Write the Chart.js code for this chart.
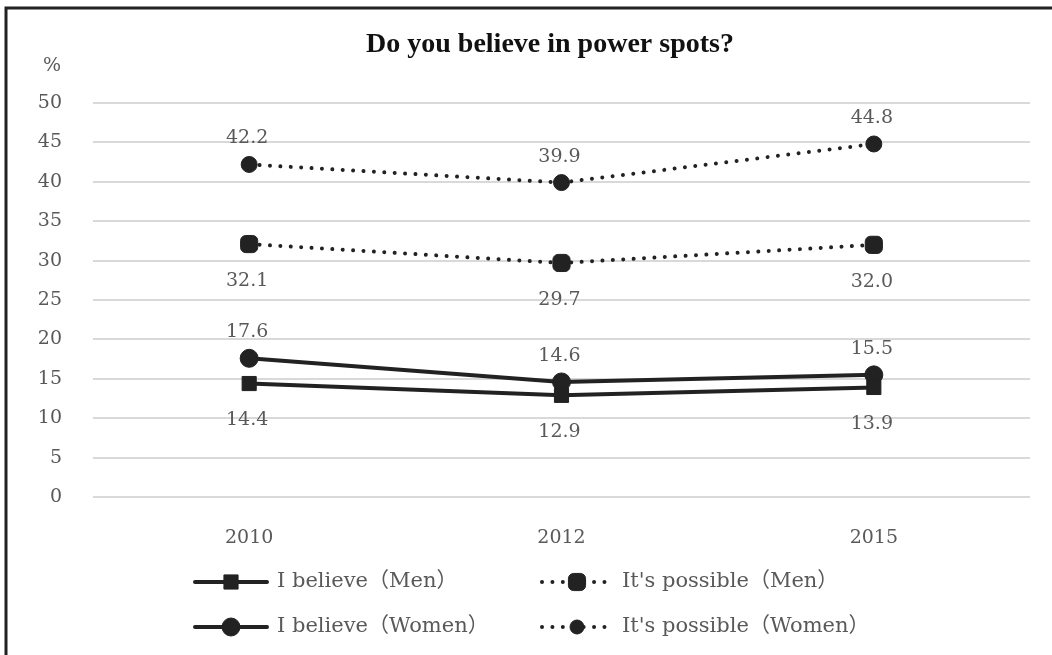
<!DOCTYPE html>
<html>
<head>
<meta charset="utf-8">
<script src="https://cdn.jsdelivr.net/npm/chart.js@4.4.0/dist/chart.umd.min.js"></script>
<style>
  html, body { margin: 0; padding: 0; background: #fff; }
  #wrap { position: relative; width: 1052px; height: 655px; }
</style>
</head>
<body>
<div id="wrap"><canvas id="powerSpotChart"></canvas></div>
<script>
// --- data ---
const years = ['2010', '2012', '2015'];
const believeMen = [14.4, 12.9, 13.9];
const possibleMen = [32.1, 29.7, 32.0];
const believeWomen = [17.6, 14.6, 15.5];
const possibleWomen = [42.2, 39.9, 44.8];
const yTicks = [0, 5, 10, 15, 20, 25, 30, 35, 40, 45, 50];

const chartTitle = 'Do you believe in power spots?';
const unitLabel = '%';

const SERIF = "'DejaVu Serif', 'Noto Sans CJK JP', serif";
const INK = '#222222';
const GREY_TEXT = '#595959';

// rótulos de valor acima/abaixo dos pontos
const valueLabels = {
  id: 'valueLabels',
  afterDatasetsDraw(chart) {
    const ctx = chart.ctx;
    ctx.save();
    ctx.font = '19px ' + SERIF;
    ctx.fillStyle = GREY_TEXT;
    ctx.textAlign = 'center';
    ctx.textBaseline = 'middle';
    chart.data.datasets.forEach((ds, i) => {
      const meta = chart.getDatasetMeta(i);
      meta.data.forEach((pt, j) => {
        const dy = ds.labelPos === 'above' ? -26 : 37;
        ctx.fillText(ds.data[j].toFixed(1), pt.x - 2, pt.y + dy);
      });
    });
    ctx.restore();
  }
};

// título, unidade, moldura e legenda 2x2
const decorations = {
  id: 'decorations',
  afterDraw(chart) {
    const ctx = chart.ctx;
    ctx.save();

    ctx.fillStyle = '#111';
    ctx.font = "bold 28px 'Liberation Serif', serif";
    ctx.textAlign = 'center';
    ctx.textBaseline = 'middle';
    ctx.fillText(chartTitle, 550, 45);

    ctx.fillStyle = GREY_TEXT;
    ctx.font = '19px ' + SERIF;
    ctx.fillText(unitLabel, 52, 66);

    // moldura (cortada à direita e embaixo como no original)
    ctx.strokeStyle = INK;
    ctx.lineWidth = 3;
    ctx.beginPath();
    ctx.moveTo(6, 660);
    ctx.lineTo(6, 8);
    ctx.lineTo(1060, 8);
    ctx.stroke();

    // legenda
    const cols = [{ x0: 195, x1: 267, tx: 277 }, { x0: 542, x1: 612, tx: 622 }];
    const rows = [582, 627];
    chart.data.datasets.forEach((ds, i) => {
      const c = cols[i % 2];
      const y = rows[Math.floor(i / 2)];
      ctx.save();
      ctx.strokeStyle = ds.borderColor;
      ctx.lineWidth = ds.borderWidth;
      ctx.lineCap = 'round';
      ctx.setLineDash(ds.borderDash || []);
      ctx.beginPath();
      ctx.moveTo(c.x0, y);
      ctx.lineTo(c.x1, y);
      ctx.stroke();
      ctx.restore();
      ctx.save();
      ctx.fillStyle = INK;
      ctx.strokeStyle = INK;
      ctx.lineWidth = 1;
      Chart.helpers.drawPoint(ctx, {
        pointStyle: ds.pointStyle,
        radius: ds.legendRadius,
        rotation: 0,
        borderWidth: 1
      }, (c.x0 + c.x1) / 2, y);
      ctx.restore();
      ctx.fillStyle = GREY_TEXT;
      ctx.font = '21px ' + SERIF;
      ctx.textAlign = 'left';
      ctx.textBaseline = 'middle';
      ctx.fillText(ds.label, c.tx, y);
    });
    ctx.restore();
  }
};

function series(label, data, opts) {
  return Object.assign({
    label: label,
    data: data,
    borderColor: INK,
    backgroundColor: INK,
    pointBackgroundColor: INK,
    pointBorderColor: INK,
    pointBorderWidth: 1,
    borderWidth: 4,
    tension: 0,
    fill: false
  }, opts);
}

const DOTS = [0.01, 10.4];

new Chart(document.getElementById('powerSpotChart'), {
  type: 'line',
  data: {
    labels: years,
    datasets: [
      series('I believe（Men）', believeMen, { pointStyle: 'rect', pointRadius: 10, legendRadius: 10, labelPos: 'below' }),
      series("It's possible（Men）", possibleMen, { pointStyle: 'rectRounded', pointRadius: 10, legendRadius: 10, borderDash: DOTS, borderCapStyle: 'round', labelPos: 'below' }),
      series('I believe（Women）', believeWomen, { pointStyle: 'circle', pointRadius: 9, legendRadius: 9, labelPos: 'above' }),
      series("It's possible（Women）", possibleWomen, { pointStyle: 'circle', pointRadius: 8, legendRadius: 7, borderDash: DOTS, borderCapStyle: 'round', labelPos: 'above' })
    ]
  },
  options: {
    responsive: true,
    maintainAspectRatio: false,
    animation: false,
    layout: { padding: { top: 103, right: 22, left: 0, bottom: 0 } },
    plugins: {
      legend: { display: false },
      title: { display: false },
      tooltip: { enabled: false }
    },
    scales: {
      x: {
        offset: true,
        grid: { display: false },
        border: { display: false },
        ticks: { color: GREY_TEXT, font: { family: SERIF, size: 19 }, padding: 22 },
        afterFit(scale) { scale.height = 158; }
      },
      y: {
        min: 0,
        max: 50,
        afterBuildTicks(scale) { scale.ticks = yTicks.map(v => ({ value: v })); },
        grid: { color: '#d9d9d9', lineWidth: 2, drawTicks: false },
        border: { display: false },
        ticks: { color: GREY_TEXT, font: { family: SERIF, size: 19 }, padding: 31 },
        afterFit(scale) { scale.width = 93; }
      }
    }
  },
  plugins: [valueLabels, decorations]
});
</script>
</body>
</html>
